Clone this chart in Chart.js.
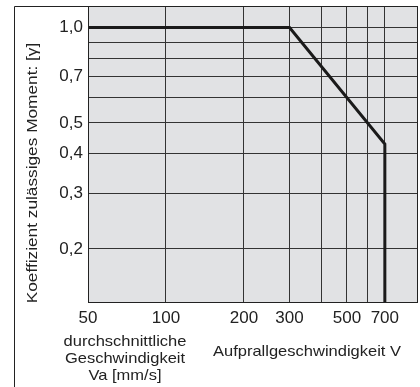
<!DOCTYPE html>
<html>
<head>
<meta charset="utf-8">
<script src="https://cdn.jsdelivr.net/npm/chart.js@4"></script>
<style>
  html, body { margin: 0; padding: 0; background: #fff; }
  #wrap { width: 420px; height: 387px; }
</style>
</head>
<body>
<div id="wrap"><canvas id="myChart"></canvas></div>
<script>
// impact speed [mm/s] vs. allowable moment coefficient
const speeds = [50, 300, 700, 700];
const coef = [1.0, 1.0, 0.4286, 0.135];

const xGrid = [50, 100, 200, 300, 400, 500, 600, 700];
const xLabels = [50, 100, 200, 300, 500, 700];
const yGrid = [0.2, 0.3, 0.4, 0.5, 0.6, 0.7, 0.8, 0.9, 1.0];
const yLabels = [0.2, 0.3, 0.4, 0.5, 0.7, 1.0];

const FONT = 'Liberation Sans, Arial, sans-serif';

function stretchText(ctx, txt, x, y, sx) {
    ctx.save();
    ctx.translate(x, y);
    ctx.scale(sx, 1);
    ctx.fillText(txt, 0, 0);
    ctx.restore();
}

const frame = {
    id: 'frame',
    beforeDraw(chart) {
        const { ctx, chartArea: a } = chart;
        ctx.save();
        ctx.fillStyle = '#e1e2e4';
        ctx.fillRect(a.left, a.top, a.right - a.left, a.bottom - a.top);
        ctx.restore();
    },
    afterDraw(chart) {
        const { ctx, chartArea: a } = chart;
        ctx.save();
        ctx.strokeStyle = '#222';
        ctx.lineWidth = 1;
        ctx.strokeRect(a.left + 0.5, a.top + 0.5, a.right - a.left - 1, a.bottom - a.top - 1);
        // outer box
        ctx.beginPath();
        ctx.moveTo(14.5, 400);
        ctx.lineTo(14.5, a.top + 0.5);
        ctx.lineTo(a.right, a.top + 0.5);
        ctx.stroke();

        ctx.fillStyle = '#222';
        ctx.textAlign = 'center';
        ctx.textBaseline = 'middle';
        ctx.font = '15px ' + FONT;
        stretchText(ctx, 'durchschnittliche', 125, 342, 1.1);
        stretchText(ctx, 'Geschwindigkeit', 125, 359, 1.1);
        stretchText(ctx, 'Va [mm/s]', 125, 376, 1.1);
        stretchText(ctx, 'Aufprallgeschwindigkeit V', 307, 352, 1.1);

        ctx.translate(33, 173);
        ctx.rotate(-Math.PI / 2);
        ctx.font = '15px ' + FONT;
        stretchText(ctx, 'Koeffizient zulässiges Moment: [γ]', 0, 0, 1.15);
        ctx.restore();
    }
};

const data = {
    datasets: [{
        data: speeds.map((v, i) => ({ x: v, y: coef[i] })),
        borderColor: '#1a1a1a',
        borderWidth: 3,
        pointRadius: 0,
        showLine: true,
        tension: 0
    }]
};

const config = {
    type: 'scatter',
    data: data,
    options: {
        responsive: true,
        maintainAspectRatio: false,
        animation: false,
        layout: { padding: { top: 6, right: 2, left: 0, bottom: 0 } },
        plugins: {
            legend: { display: false },
            tooltip: { enabled: false }
        },
        scales: {
            x: {
                type: 'logarithmic',
                min: 50,
                max: 940,
                afterBuildTicks: s => { s.ticks = xGrid.map(v => ({ value: v })); },
                afterFit: s => { s.height = 84; s.paddingLeft = 0; s.paddingRight = 0; },
                ticks: {
                    autoSkip: false,
                    maxRotation: 0,
                    padding: 5,
                    color: '#222',
                    font: { family: FONT, size: 17 },
                    callback: v => xLabels.includes(v) ? String(v) : ''
                },
                grid: { color: '#333', lineWidth: 1, drawTicks: false },
                border: { display: false }
            },
            y: {
                type: 'logarithmic',
                min: 0.135,
                max: 1.17,
                afterBuildTicks: s => { s.ticks = yGrid.map(v => ({ value: v })); },
                afterFit: s => { s.width = 88; s.paddingTop = 0; s.paddingBottom = 0; },
                ticks: {
                    autoSkip: false,
                    padding: 5,
                    color: '#222',
                    font: { family: FONT, size: 17 },
                    callback: v => yLabels.some(l => Math.abs(l - v) < 1e-9) ? v.toFixed(1).replace('.', ',') : ''
                },
                grid: { color: '#333', lineWidth: 1, drawTicks: false },
                border: { display: false }
            }
        }
    },
    plugins: [frame]
};

const myChart = new Chart(document.getElementById('myChart'), config);
</script>
</body>
</html>
